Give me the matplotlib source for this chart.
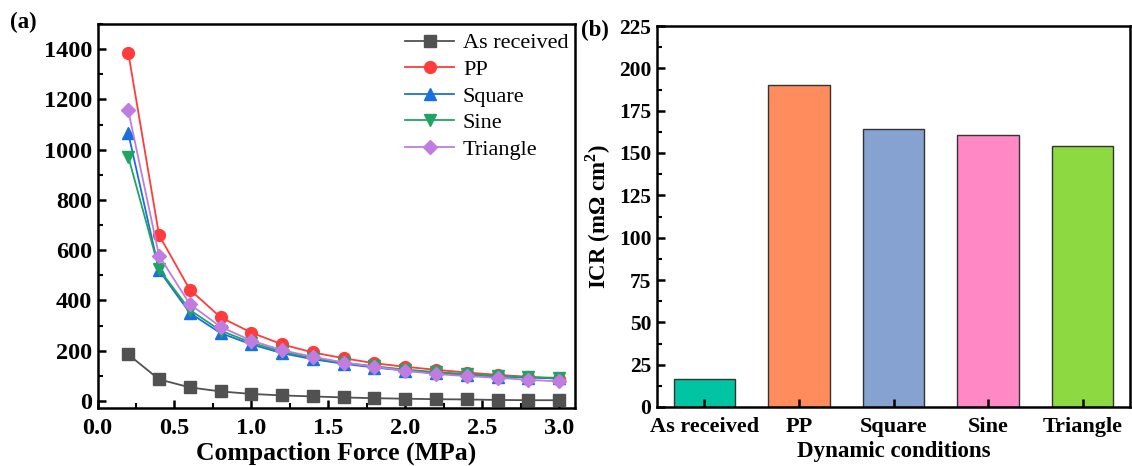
import matplotlib
matplotlib.use("Agg")
import matplotlib.pyplot as plt
from matplotlib.ticker import MultipleLocator

plt.rcParams['font.family'] = ['Liberation Serif', 'DejaVu Serif']
plt.rcParams['mathtext.fontset'] = 'custom'
plt.rcParams['mathtext.rm'] = 'Liberation Serif'
plt.rcParams['mathtext.bf'] = 'Liberation Serif:bold'

# ---- data panel (a)
force = [0.2, 0.4, 0.6, 0.8, 1.0, 1.2, 1.4, 1.6, 1.8, 2.0, 2.2, 2.4, 2.6, 2.8, 3.0]
as_received = [185, 86, 54, 38, 28, 22, 18, 14, 11, 9, 7, 6, 4, 3, 3]
pp = [1386, 660, 443, 333, 272, 225, 193, 170, 150, 136, 124, 113, 104, 96, 88]
square = [1065, 520, 350, 270, 225, 190, 166, 148, 133, 121, 111, 103, 97, 93, 90]
sine = [972, 525, 362, 280, 232, 196, 171, 152, 138, 125, 115, 107, 100, 95, 92]
triangle = [1156, 578, 385, 295, 240, 202, 176, 153, 136, 120, 107, 99, 92, 84, 78]
series_names = ["As received", "PP", "Square", "Sine", "Triangle"]

# ---- data panel (b)
conditions = ["As received", "PP", "Square", "Sine", "Triangle"]
icr = [16.5, 190.3, 164.0, 160.5, 154.0]

line_colors = ["#515151", "#FF3B3B", "#1A6FDF", "#1FA463", "#C07CE0"]
markers = ["s", "o", "^", "v", "D"]
bar_colors = ["#00C4A2", "#FF8C5C", "#86A2D0", "#FF88C5", "#8DD942"]

fig = plt.figure(figsize=(11.32, 4.66), dpi=100)
ax1 = fig.add_axes([97.5/1132, 1 - 408/466, (574.5 - 97.5)/1132, (408 - 24)/466])
ax2 = fig.add_axes([657/1132, 1 - 407/466, (1130 - 657)/1132, (407 - 26)/466])

for ys, name, c, m in zip([as_received, pp, square, sine, triangle], series_names, line_colors, markers):
    ms = 7.5 if m == "D" else 8.5
    ax1.plot(force, ys, color=c, marker=m, markersize=ms, linewidth=1.3, label=name)

ax1.set_xlim(0, 3.1)
ax1.set_ylim(-28, 1500)
ax1.xaxis.set_major_locator(MultipleLocator(0.5))
ax1.xaxis.set_minor_locator(MultipleLocator(0.25))
ax1.yaxis.set_major_locator(MultipleLocator(200))
ax1.yaxis.set_minor_locator(MultipleLocator(100))
ax1.set_yticks(range(0, 1401, 200))
ax1.set_xlabel("Compaction Force (MPa)", fontsize=18.5, fontweight="bold", labelpad=2)
leg = ax1.legend(loc="upper right", frameon=False, fontsize=16, handlelength=2.2,
                 labelspacing=0.27, borderaxespad=0.0, handletextpad=0.4,
                 bbox_to_anchor=(1.006, 1.0))

for ax, fs in [(ax1, 17.5), (ax2, 15.5)]:
    for sp in ax.spines.values():
        sp.set_linewidth(1.8)
    ax.tick_params(which="major", direction="in", length=6, width=1.8, labelsize=fs, pad=4)
    ax.tick_params(axis="x", which="major", pad=7)
    ax.tick_params(which="minor", direction="in", length=3.5, width=1.5)
    for lab in ax.get_xticklabels() + ax.get_yticklabels():
        lab.set_fontweight("bold")

ax2.bar(range(len(conditions)), icr, width=0.65, color=bar_colors, edgecolor="#333333", linewidth=1.0)
ax2.set_xlim(-0.5, 4.5)
ax2.set_ylim(0, 225)
ax2.set_xticks(range(len(conditions)))
ax2.set_xticklabels(conditions, fontweight="bold", fontsize=16)
ax2.yaxis.set_major_locator(MultipleLocator(25))
ax2.yaxis.set_minor_locator(MultipleLocator(12.5))
ax2.tick_params(axis="x", which="minor", bottom=False)
for lab in ax2.get_yticklabels():
    lab.set_fontweight("bold")
ax2.set_xlabel("Dynamic conditions", fontsize=16.5, fontweight="bold", labelpad=3)
ax2.set_ylabel("ICR (m\u03a9 cm$^{\\mathbf{2}}$)", fontsize=16.5, fontweight="bold", labelpad=4)

fig.text(10/1132, 1 - 22/466, "(a)", fontsize=16.5, fontweight="bold", va="center", ha="left")
fig.text(581/1132, 1 - 30/466, "(b)", fontsize=16.5, fontweight="bold", va="center", ha="left")

fig.savefig("out.png", dpi=100)
